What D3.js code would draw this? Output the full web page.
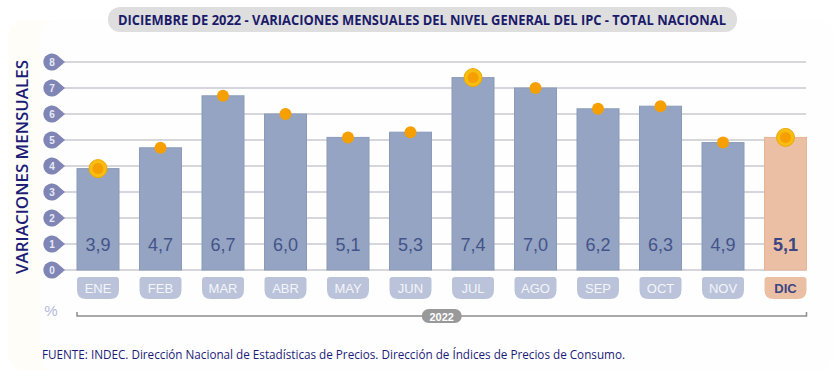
<!DOCTYPE html>
<html><head><meta charset="utf-8">
<script src="https://cdn.jsdelivr.net/npm/d3@7"></script>
<style>body{margin:0;background:#fff}svg{display:block}</style>
</head><body><svg id="c" width="840" height="378"></svg>
<script>
const months = ["ENE","FEB","MAR","ABR","MAY","JUN","JUL","AGO","SEP","OCT","NOV","DIC"];
const values = [3.9,4.7,6.7,6.0,5.1,5.3,7.4,7.0,6.2,6.3,4.9,5.1];
const haloMonths = ["ENE","JUL","DIC"];
const highlightMonth = "DIC";
const yTicks = [0,1,2,3,4,5,6,7,8];
const yearLabel = "2022";
const title = "DICIEMBRE DE 2022 - VARIACIONES MENSUALES DEL NIVEL GENERAL DEL IPC - TOTAL NACIONAL";
const yTitle = "VARIACIONES MENSUALES";
const unit = "%";
const source = "FUENTE: INDEC. Dirección Nacional de Estadísticas de Precios. Dirección de Índices de Precios de Consumo.";

const svg = d3.select("#c");
const fmt = v => d3.format(".1f")(v).replace(".", ",");

// background frame
svg.append("rect").attr("x",8).attr("y",20).attr("width",826).attr("height",350).attr("rx",16)
  .attr("fill","#fffdf7");
svg.append("rect").attr("x",40).attr("y",20).attr("width",794).attr("height",350).attr("rx",16)
  .attr("fill","#fefefe");

const y = d3.scaleLinear().domain([0,8]).range([270,62]);
const x = d3.scaleBand().domain(months).range([66.75,816.75]).paddingInner(0.328).paddingOuter(0.164);

// gridlines
svg.append("g").selectAll("line").data(yTicks).join("line")
  .attr("x1",55).attr("x2",806).attr("y1",d=>y(d)).attr("y2",d=>y(d))
  .attr("stroke","#d6d6dd").attr("stroke-width",2);

// tick markers (teardrop pointing right)
const tk = svg.append("g").selectAll("g").data(yTicks).join("g")
  .attr("transform",d=>`translate(52,${y(d)})`);
tk.append("path")
  .attr("d","M4.9,-7.0 A8.6,8.6 0 1,0 4.9,7.0 L13,0 Z")
  .attr("fill","#7f85b5");
tk.append("text").text(d=>d).attr("text-anchor","middle").attr("dy","0.36em")
  .attr("font-family","Liberation Sans, Arial, sans-serif").attr("font-size",10).attr("font-weight","bold")
  .attr("fill","#e8eaf6");

// bars
svg.append("g").selectAll("rect").data(values).join("rect")
  .attr("x",(d,i)=>x(months[i])).attr("width",x.bandwidth())
  .attr("y",d=>y(d)).attr("height",d=>y(0)-y(d))
  .attr("fill",(d,i)=>months[i]===highlightMonth?"#ebbfa3":"#94a4c2")
  .attr("stroke",(d,i)=>months[i]===highlightMonth?"#e6b497":"#8a9aba").attr("stroke-width",1);

// value labels
svg.append("g").selectAll("text").data(values).join("text")
  .attr("x",(d,i)=>x(months[i])+x.bandwidth()/2).attr("y",251)
  .attr("text-anchor","middle")
  .attr("font-family","Liberation Sans, Arial, sans-serif").attr("font-size",18)
  .attr("font-weight",(d,i)=>months[i]===highlightMonth?"bold":"normal")
  .attr("fill",(d,i)=>months[i]===highlightMonth?"#3c4683":"#44538a")
  .text(d=>fmt(d));

// month pills
const bw = x.bandwidth();
const pill = (w,h,rt,rb)=>`M${rt},0 H${w-rt} Q${w},0 ${w},${rt} V${h-rb} Q${w},${h} ${w-rb},${h} H${rb} Q0,${h} 0,${h-rb} V${rt} Q0,0 ${rt},0 Z`;
const mp = svg.append("g").selectAll("g").data(months).join("g")
  .attr("transform",m=>`translate(${x(m)},277)`);
mp.append("path").attr("d",pill(bw,22,3,9))
  .attr("fill",m=>m===highlightMonth?"#ebbfa3":"#bac3da");
mp.append("text").text(m=>m).attr("x",bw/2).attr("y",15.5).attr("text-anchor","middle")
  .attr("font-family","Liberation Sans Narrow, Liberation Sans, Arial, sans-serif").attr("font-size",13)
  .attr("font-weight",m=>m===highlightMonth?"bold":"normal")
  .attr("fill",m=>m===highlightMonth?"#3c4683":"#f4f5fa");

// dots
const dots = svg.append("g").selectAll("g").data(values).join("g")
  .attr("transform",(d,i)=>`translate(${x(months[i])+bw/2},${y(d)})`);
dots.filter((d,i)=>haloMonths.includes(months[i])).append("circle").attr("r",9)
  .attr("fill","#f9bd12").attr("stroke","#eca900").attr("stroke-width",1);
dots.append("circle").attr("r",(d,i)=>haloMonths.includes(months[i])?5.5:6)
  .attr("fill","#f5a000");

// bracket
const bx0 = x(months[0]), bx1 = x(months[months.length-1])+bw;
svg.append("path").attr("d",`M${bx0},312 V316 H${bx1} V312`).attr("fill","none")
  .attr("stroke","#8d8d8d").attr("stroke-width",1.5);
const cx = (bx0+bx1)/2;
svg.append("rect").attr("x",cx-20).attr("y",309).attr("width",40).attr("height",14).attr("rx",7)
  .attr("fill","#999999");
svg.append("text").text(yearLabel).attr("x",cx).attr("y",320.5).attr("text-anchor","middle")
  .attr("font-family","Liberation Sans, Arial, sans-serif").attr("font-size",11).attr("font-weight","bold").attr("fill","#fff");

// unit
svg.append("text").text(unit).attr("x",51).attr("y",316).attr("text-anchor","middle")
  .attr("font-family","Liberation Sans, Arial, sans-serif").attr("font-size",15).attr("fill","#b3bbda");

// y title
svg.append("text").text(yTitle).attr("transform","translate(28,167) rotate(-90)")
  .attr("text-anchor","middle").attr("font-family","Open Sans, Liberation Sans, sans-serif")
  .attr("font-size",17).attr("font-weight",600).attr("fill","#1d1d78").attr("textLength",214).attr("lengthAdjust","spacingAndGlyphs");

// title
svg.append("rect").attr("x",108).attr("y",7).attr("width",629).attr("height",25).attr("rx",12).attr("fill","#dedede");
svg.append("text").text(title).attr("x",422).attr("y",24.5).attr("text-anchor","middle")
  .attr("font-family","Liberation Sans Narrow, Open Sans, sans-serif").attr("font-size",14).attr("font-weight","bold")
  .attr("fill","#1b1b6a").attr("textLength",608).attr("lengthAdjust","spacingAndGlyphs");

// source
svg.append("text").text(source).attr("x",42).attr("y",359)
  .attr("font-family","Liberation Sans Narrow, Open Sans, sans-serif").attr("font-size",12)
  .attr("fill","#1b1b78").attr("textLength",583).attr("lengthAdjust","spacingAndGlyphs");
</script></body></html>
